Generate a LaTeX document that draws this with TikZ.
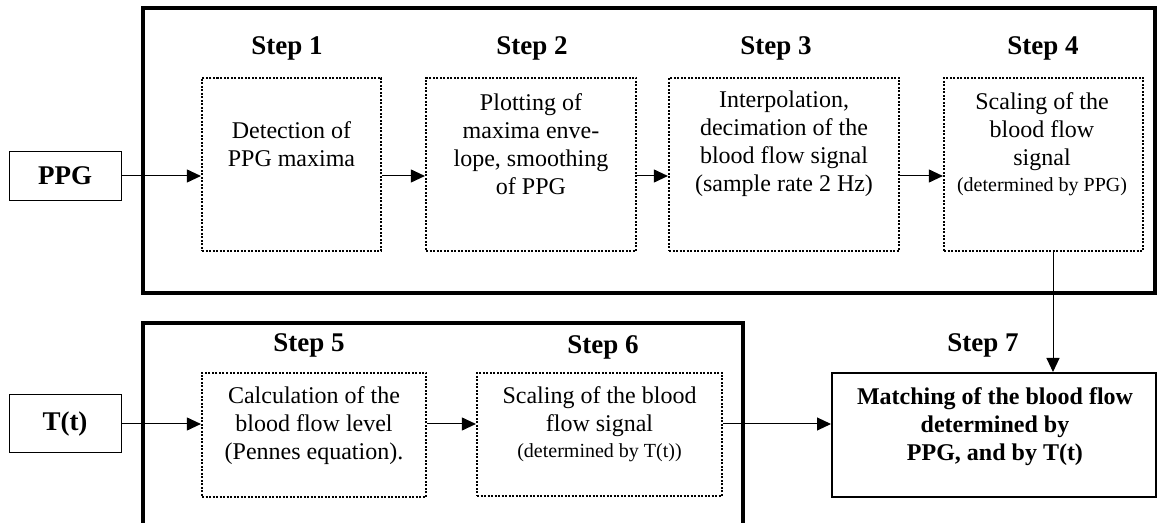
\documentclass[tikz,border=0pt]{standalone}
\usepackage{fontspec}
\setmainfont{Liberation Serif}
\usetikzlibrary{arrows.meta}

\tikzset{
  stepbox/.style={draw, line width=1.1pt, dash pattern=on 1pt off 0.75pt, inner sep=0pt},
  steptext/.style={align=center, inner sep=0pt, font=\fontsize{12}{14}\selectfont},
  steplabel/.style={inner sep=0pt, font=\fontsize{13.5}{16}\selectfont\bfseries},
  inbox/.style={draw, line width=0.5pt, minimum width=56pt, inner sep=0pt, font=\fontsize{13.5}{16}\selectfont\bfseries},
  matchbox/.style={draw, line width=1pt, inner sep=0pt},
  flow/.style={line width=0.5pt, -{Triangle[length=7pt,width=6.5pt]}},
  frame/.style={line width=2pt}
}
\newcommand{\notesize}{\fontsize{10}{12}\selectfont}

\begin{document}
\begin{tikzpicture}[x=0.5pt,y=-0.5pt]
  \useasboundingbox (0,0) rectangle (1158,523);

  % Drawing frame round steps 1 to 4
  \draw [frame] (143,8) rectangle (1155,293);

  % Drawing frame round steps 5 and 6 (open at the bottom)
  \draw [frame] (143,523) -- (143,323) -- (743,323) -- (743,523);

  % Input PPG
  \node [inbox, minimum height=24.5pt] (ppg) at (65,176) {PPG};

  % Step 1
  \node [stepbox, minimum width=89.5pt, minimum height=86.5pt] (s1) at (291.5,164.5) {};
  \node [steptext] (t1) at (291.5,144) {Detection of\\PPG maxima};
  \node [steplabel] (l1) at (287,48) {Step 1};

  % Step 2
  \node [stepbox, minimum width=105pt, minimum height=86.5pt] (s2) at (531,164.5) {};
  \node [steptext] (t2) at (531,144) {Plotting of\\maxima enve-\\lope, smoothing\\of PPG};
  \node [steplabel] (l2) at (532,48) {Step 2};

  % Step 3
  \node [stepbox, minimum width=115pt, minimum height=86.5pt] (s3) at (784,164.5) {};
  \node [steptext] (t3) at (784,144) {Interpolation,\\decimation of the\\blood flow signal\\(sample rate 2 Hz)};
  \node [steplabel] (l3) at (776,48) {Step 3};

  % Step 4
  \node [stepbox, minimum width=99.5pt, minimum height=86.5pt] (s4) at (1043.5,164.5) {};
  \node [steptext] (t4) at (1042,144) {Scaling of the\\blood flow\\signal\\[-1pt]{\notesize (determined by PPG)}};
  \node [steplabel] (l4) at (1043,48) {Step 4};

  % Input T(t)
  \node [inbox, minimum height=29pt] (tt) at (65,424) {T(t)};

  % Step 5
  \node [stepbox, minimum width=112pt, minimum height=62pt] (s5) at (314,435) {};
  \node [steptext] (t5) at (314,426) {Calculation of the\\blood flow level\\(Pennes equation).};
  \node [steplabel] (l5) at (309,345) {Step 5};

  % Step 6
  \node [stepbox, minimum width=122.5pt, minimum height=61.5pt] (s6) at (599.5,434.5) {};
  \node [steptext] (t6) at (599.5,424) {Scaling of the blood\\flow signal\\[-1pt]{\notesize (determined by T(t))}};
  \node [steplabel] (l6) at (603,347) {Step 6};

  % Step 7
  \node [matchbox, minimum width=162pt, minimum height=62pt] (match) at (994,435) {};
  \node [steptext, font=\fontsize{12}{14}\selectfont\bfseries] (t7) at (995,427) {Matching of the blood flow\\determined by\\PPG, and by T(t)};
  \node [steplabel] (l7) at (983,345) {Step 7};

  % Drawing arrows of the PPG branch
  \draw [flow] (ppg) -- (ppg -| s1.west);
  \draw [flow] (s1.east |- ppg) -- (s2.west |- ppg);
  \draw [flow] (s2.east |- ppg) -- (s3.west |- ppg);
  \draw [flow] (s3.east |- ppg) -- (s4.west |- ppg);
  \draw [flow] ([xshift=4.75pt]s4.south) -- ([xshift=4.75pt]s4.south |- match.north);

  % Drawing arrows of the T(t) branch
  \draw [flow] (tt) -- (tt -| s5.west);
  \draw [flow] (s5.east |- tt) -- (s6.west |- tt);
  \draw [flow] (s6.east |- tt) -- (match.west |- tt);
\end{tikzpicture}
\end{document}
